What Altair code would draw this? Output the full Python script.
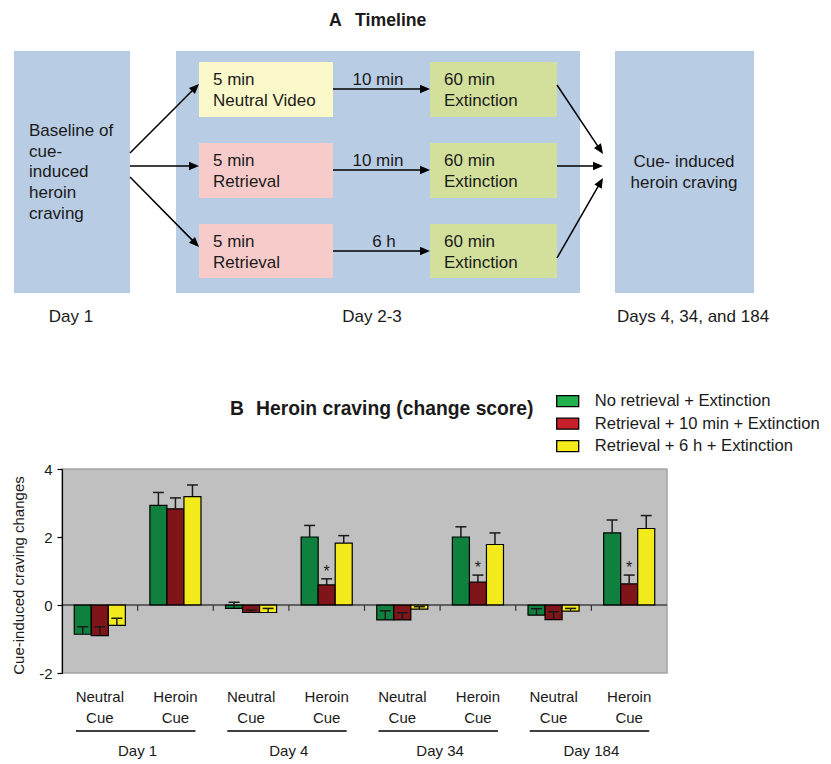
import math

import altair as alt
import pandas as pd

FONT = "Liberation Sans"
INK = "#1a1a1a"

# ---------------------------------------------------------------- Panel A (timeline diagram)
title_parts = ["A", "Timeline", "B", "Heroin craving (change score)"]
title_x = [329, 355, 230, 256]
title_y = [26, 26, 415, 415]
title_size = [17.7, 17.7, 19.3, 19.3]

box_x1 = [14, 176, 615, 199, 199, 199, 430, 430, 430]
box_x2 = [130, 580, 754, 333, 333, 333, 557, 557, 557]
box_y1 = [51, 51, 51, 62, 143, 224, 62, 143, 224]
box_y2 = [293, 293, 293, 117, 198, 278, 117, 198, 278]
box_fill = ["#b8cce4", "#b8cce4", "#b8cce4",
            "#fbf9c9", "#f8cbcb", "#f8cbcb",
            "#d3e09b", "#d3e09b", "#d3e09b"]

left_text = ["Baseline of\ncue-\ninduced\nheroin\ncraving",
             "5 min\nNeutral Video", "5 min\nRetrieval", "5 min\nRetrieval",
             "60 min\nExtinction", "60 min\nExtinction", "60 min\nExtinction"]
left_text_x = [29, 213, 213, 213, 444, 444, 444]
left_text_y = [131, 80, 161, 242, 80, 161, 242]          # first line

center_text = ["10 min", "10 min", "6 h", "Cue- induced\nheroin craving",
               "Day 1", "Day 2-3", "Days 4, 34, and 184"]
center_text_x = [378, 378, 384, 684, 71, 372, 693]
center_text_y = [80, 161, 242, 162, 317, 317, 317]        # first line

arrow_x1 = [130, 130, 130, 333, 333, 333, 557, 557, 557]
arrow_y1 = [153, 166, 177, 89, 170, 251, 85, 166, 258]
arrow_x2 = [199, 199, 199, 430, 430, 430, 603, 603, 603]
arrow_y2 = [84, 166, 247, 89, 170, 251, 154, 166, 178]

# ---------------------------------------------------------------- Panel B (bar chart)
y_title = "Cue-induced craving changes"
days = ["Day 1", "Day 4", "Day 34", "Day 184"]
cues = ["Neutral Cue", "Heroin Cue"]
conditions = ["No retrieval + Extinction",
              "Retrieval + 10 min + Extinction",
              "Retrieval + 6 h + Extinction"]
bar_colors = ["#10803f", "#7f1518", "#f2ea1a"]
legend_colors = ["#22b14c", "#c8202a", "#f5ec1a"]

# order: Day1 Neutral, Day1 Heroin, Day4 Neutral, Day4 Heroin, Day34 N, Day34 H, Day184 N, Day184 H
mean_no_retrieval = [-0.86, 2.93, -0.10, 2.00, -0.44, 2.00, -0.30, 2.12]
mean_retrieval_10min = [-0.90, 2.83, -0.22, 0.59, -0.44, 0.67, -0.43, 0.62]
mean_retrieval_6h = [-0.60, 3.19, -0.22, 1.82, -0.12, 1.78, -0.18, 2.25]
err_no_retrieval = [0.22, 0.38, 0.18, 0.34, 0.27, 0.30, 0.19, 0.38]
err_retrieval_10min = [0.26, 0.32, 0.07, 0.18, 0.21, 0.21, 0.23, 0.26]
err_retrieval_6h = [0.21, 0.34, 0.12, 0.22, 0.07, 0.34, 0.08, 0.38]
sig_retrieval_10min = [False, False, False, True, False, True, False, True]

# ---------------------------------------------------------------- tables
titles = pd.DataFrame({"text": title_parts, "x": title_x, "y": title_y, "size": title_size})
boxes = pd.DataFrame({"x1": box_x1, "x2": box_x2, "y1": box_y1, "y2": box_y2, "fill": box_fill})
ltext = pd.DataFrame({"text": left_text, "x": left_text_x, "y": left_text_y})
ctext = pd.DataFrame({"text": center_text, "x": center_text_x, "y": center_text_y})
arrows = pd.DataFrame({"x1": arrow_x1, "y1": arrow_y1, "x2": arrow_x2, "y2": arrow_y2})
arrows["angle"] = [
    math.degrees(math.atan2(b - a, d - c)) % 360
    for a, b, c, d in zip(arrows.y1, arrows.y2, arrows.x1, arrows.x2)
]
arrows["xe"] = [x2 - 4 * math.cos(math.radians(a)) for x2, a in zip(arrows.x2, arrows.angle)]
arrows["ye"] = [y2 - 4 * math.sin(math.radians(a)) for y2, a in zip(arrows.y2, arrows.angle)]

group_keys = [f"{d} {c}" for d in days for c in cues]
series = [
    (conditions[0], mean_no_retrieval, err_no_retrieval, [False] * 8),
    (conditions[1], mean_retrieval_10min, err_retrieval_10min, sig_retrieval_10min),
    (conditions[2], mean_retrieval_6h, err_retrieval_6h, [False] * 8),
]
rows = []
for cond, means, errs, sigs in series:
    for g, m, e, s in zip(group_keys, means, errs, sigs):
        rows.append({"group": g, "condition": cond, "mean": m, "top": m + e, "sig": s})
bar_df = pd.DataFrame(rows)
cue_df = pd.DataFrame({"group": group_keys,
                       "label": [c.replace(" ", "\n") for d in days for c in cues]})
day_df = pd.DataFrame({"day": days,
                       "start": [f"{d} {cues[0]}" for d in days],
                       "end": [f"{d} {cues[1]}" for d in days]})
bound_df = pd.DataFrame({"group": group_keys[1:]})

# ---------------------------------------------------------------- geometry of the page
PAGE_R, PAGE_BOTTOM = 823, 762
PLOT_L, PLOT_T = 62, 469          # plot-area corner on the page
PLOT_W, PLOT_H = 605, 204

# Panel A is drawn in page pixel units, mapped onto the same plot frame
xs = alt.Scale(domain=[PLOT_L, PLOT_L + PLOT_W], nice=False, zero=False)
ys = alt.Scale(domain=[PLOT_T, PLOT_T + PLOT_H], nice=False, zero=False, reverse=True)


def X(f):
    return alt.X(f"{f}:Q", scale=xs, axis=None)


def Y(f):
    return alt.Y(f"{f}:Q", scale=ys, axis=None)


rects = alt.Chart(boxes).mark_rect().encode(
    x=X("x1"), x2="x2:Q", y=Y("y1"), y2="y2:Q", fill=alt.Fill("fill:N", scale=None)
)
shafts = alt.Chart(arrows).mark_rule(color="black", strokeWidth=1.5).encode(
    x=X("x1"), x2="xe:Q", y=Y("y1"), y2="ye:Q"
)
heads = alt.Chart(arrows).mark_point(
    shape="M0,0L-1,-0.42L-1,0.42Z", filled=True, size=400, color="black", opacity=1
).encode(x=X("x2"), y=Y("y2"), angle=alt.Angle("angle:Q", scale=None))
ltexts = alt.Chart(ltext).mark_text(
    align="left", baseline="middle", fontSize=17, lineBreak="\n", lineHeight=20.7, color=INK
).encode(x=X("x"), y=Y("y"), text="text:N")
ctexts = alt.Chart(ctext).mark_text(
    align="center", baseline="middle", fontSize=17, lineBreak="\n", lineHeight=21, color=INK
).encode(x=X("x"), y=Y("y"), text="text:N")
ttexts = alt.Chart(titles).mark_text(
    align="left", baseline="alphabetic", fontWeight="bold", color=INK
).encode(x=X("x"), y=Y("y"), text="text:N", size=alt.Size("size:Q", scale=None))

diagram = alt.layer(rects, shafts, heads, ltexts, ctexts, ttexts).properties(
    width=PLOT_W, height=PLOT_H
)

# ---------------------------------------------------------------- bar panel layers
x_scale = alt.Scale(domain=group_keys, paddingInner=0, paddingOuter=0)
x_enc = alt.X("group:N", scale=x_scale, axis=None)
xoff = alt.XOffset("condition:N",
                   scale=alt.Scale(domain=conditions, paddingInner=0, paddingOuter=0.72))
y_scale = alt.Scale(domain=[-2, 4], nice=False)
y_axis = alt.Axis(values=[-2, 0, 2, 4], grid=False, domainColor="black", domainWidth=1.2,
                  tickColor="black", tickWidth=1.2, tickSize=5, labelFontSize=15,
                  labelPadding=5, labelColor=INK, labelFont=FONT, titleFontSize=15,
                  titleFontWeight="normal", titleColor=INK, titleFont=FONT,
                  titlePadding=12, titleY=106, labelExpr="'' + datum.value")

legend = alt.Legend(
    orient="none", legendX=493.7, legendY=-79.8, title=None, direction="vertical",
    symbolType="M-1,-0.5H1V0.5H-1Z", symbolSize=484, symbolStrokeColor="black",
    symbolStrokeWidth=1.3, symbolOpacity=1, labelFontSize=16.6, labelFont=FONT,
    labelColor=INK, labelOffset=15, labelLimit=400, rowPadding=1.5, padding=0,
)


def YQ(f):
    return alt.Y(f"{f}:Q", scale=y_scale, axis=y_axis, title=y_title)


bars = alt.Chart(bar_df).mark_bar(stroke="black", strokeWidth=1.2).encode(
    x=x_enc, xOffset=xoff, y=YQ("mean"), y2=alt.datum(0),
    fill=alt.Fill("condition:N", scale=alt.Scale(domain=conditions, range=bar_colors),
                  legend=None),
)
legend_keys = alt.Chart(bar_df).mark_point(filled=True, opacity=0, size=1).encode(
    x=x_enc, xOffset=xoff, y=YQ("mean"),
    fill=alt.Fill("condition:N", scale=alt.Scale(domain=conditions, range=legend_colors),
                  legend=legend),
)
err = alt.Chart(bar_df).mark_rule(color=INK, strokeWidth=1.5).encode(
    x=x_enc, xOffset=xoff, y=YQ("mean"), y2="top:Q",
)
caps = alt.Chart(bar_df).mark_tick(color=INK, thickness=1.5, size=11, opacity=1).encode(
    x=x_enc, xOffset=xoff, y=YQ("top"),
)
stars = alt.Chart(bar_df).transform_filter("datum.sig").mark_text(
    text="*", fontSize=16, baseline="middle", dy=-7, color=INK
).encode(x=x_enc, xOffset=xoff, y=YQ("top"))
zero_line = alt.Chart(pd.DataFrame({"zero": [0]})).mark_rule(
    color="black", strokeWidth=1.2
).encode(y=YQ("zero"))
bound_ticks = alt.Chart(bound_df).mark_rule(color="#333333", strokeWidth=1.2).encode(
    x=alt.X("group:N", scale=x_scale, axis=None, bandPosition=0),
    y=alt.datum(0), y2=alt.datum(-0.17),
)
cue_labels = alt.Chart(cue_df).mark_text(
    fontSize=15, lineBreak="\n", lineHeight=20.5, baseline="middle", color=INK
).encode(x=alt.X("group:N", scale=x_scale, axis=None), y=alt.value(228), text="label:N")
day_lines = alt.Chart(day_df).mark_rule(color="black", strokeWidth=1.3).encode(
    x=alt.X("start:N", scale=x_scale, axis=None, bandPosition=0.185),
    x2=alt.X2("end:N", bandPosition=0.765),
    y=alt.value(262),
)
day_labels = alt.Chart(day_df).mark_text(fontSize=15, baseline="middle", color=INK).encode(
    x=alt.X("start:N", scale=x_scale, axis=None, bandPosition=1),
    y=alt.value(282), text="day:N",
)

bar_panel = alt.layer(
    bars, legend_keys, zero_line, bound_ticks, err, caps, stars,
    cue_labels, day_lines, day_labels
).resolve_scale(fill="independent").properties(width=PLOT_W, height=PLOT_H)

chart = alt.layer(diagram, bar_panel).resolve_scale(
    x="independent", y="independent"
).properties(
    width=PLOT_W, height=PLOT_H,
    autosize=alt.AutoSizeParams(type="none"),
    padding={"left": PLOT_L - 8, "top": PLOT_T - 8,
             "right": PAGE_R - PLOT_L - PLOT_W, "bottom": PAGE_BOTTOM - PLOT_T - PLOT_H},
).configure(font=FONT).configure_view(fill="#c0c0c0", stroke="#a4a4a4", strokeWidth=1.5)

chart.save("out.html", embed_options={"renderer": "svg", "actions": False})
